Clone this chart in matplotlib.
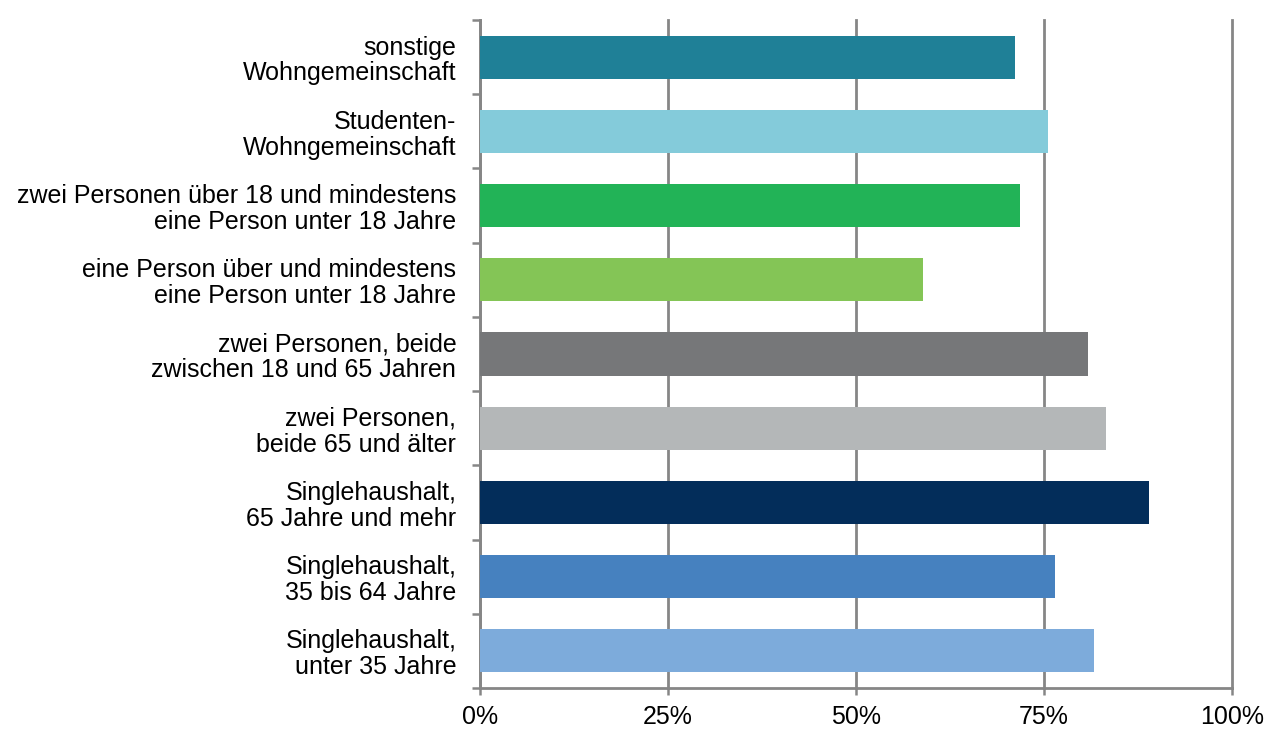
import numpy as np
import matplotlib
matplotlib.use("Agg")
import matplotlib.pyplot as plt
from matplotlib.ticker import FixedLocator

plt.rcParams['font.family'] = ['Liberation Sans', 'DejaVu Sans']

# Kategorien von oben nach unten
categories = [
    "sonstige\nWohngemeinschaft",
    "Studenten-\nWohngemeinschaft",
    "zwei Personen über 18 und mindestens\neine Person unter 18 Jahre",
    "eine Person über und mindestens\neine Person unter 18 Jahre",
    "zwei Personen, beide\nzwischen 18 und 65 Jahren",
    "zwei Personen,\nbeide 65 und älter",
    "Singlehaushalt,\n65 Jahre und mehr",
    "Singlehaushalt,\n35 bis 64 Jahre",
    "Singlehaushalt,\nunter 35 Jahre",
]
values = [71.1, 75.5, 71.8, 58.9, 80.9, 83.3, 89.0, 76.4, 81.6]
colors = ["#1F8097", "#84CBDA", "#22B357", "#84C556", "#767779",
          "#B4B7B8", "#032D5A", "#4681BF", "#7DABDB"]
xticks = [0, 25, 50, 75, 100]
xticklabels = ["0%", "25%", "50%", "75%", "100%"]

grid_col = "#868686"

fig = plt.figure(figsize=(12.67, 7.29), dpi=100)
ax = fig.add_axes([0.3788, 0.0562, 0.9724 - 0.3788, 0.9726 - 0.0562])

y = np.arange(len(categories))[::-1]
ax.barh(y, values, height=0.58, color=colors, zorder=3)

ax.set_xlim(0, 100)
ax.set_ylim(-0.5, len(categories) - 0.5)

ax.set_xticks(xticks)
ax.set_xticklabels(xticklabels, fontsize=18)
ax.set_yticks(y)
ax.set_yticklabels(categories, fontsize=18, linespacing=1.1)
ax.tick_params(axis='y', length=0, pad=17)
ax.tick_params(axis='x', length=5, width=1.8, color=grid_col, pad=7)
# Trennstriche zwischen den Kategorien
ax.yaxis.set_minor_locator(FixedLocator(np.arange(-0.5, len(categories), 1)))
ax.tick_params(axis='y', which='minor', length=6, width=1.8, color=grid_col)

ax.grid(axis='x', color=grid_col, linewidth=2.0, zorder=0)
for gl in ax.get_xgridlines():
    gl.set_clip_on(False)
for s in ['top', 'right']:
    ax.spines[s].set_visible(False)
for s in ['left', 'bottom']:
    ax.spines[s].set_color(grid_col)
    ax.spines[s].set_linewidth(2.0)

fig.savefig("out.png", dpi=100)
